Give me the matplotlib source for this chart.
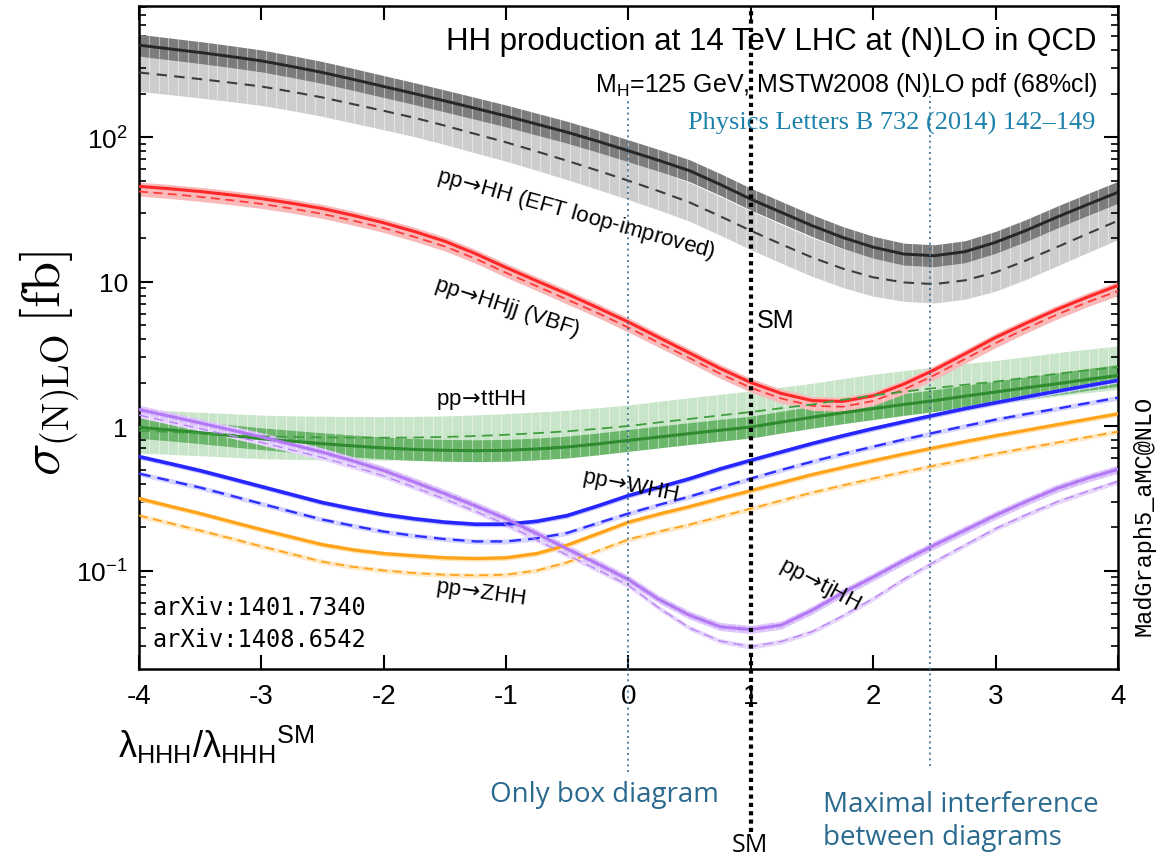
import numpy as np
import matplotlib
matplotlib.use('Agg')
import matplotlib.pyplot as plt
from matplotlib.collections import LineCollection
from matplotlib.ticker import FixedLocator, FixedFormatter, LogLocator, NullLocator

plt.rcParams['font.family'] = ['Liberation Sans', 'DejaVu Sans']
plt.rcParams['axes.unicode_minus'] = False

# lambda_HHH / lambda_HHH^SM
lam = [-4, -3.75, -3.5, -3.25, -3, -2.75, -2.5, -2.25, -2, -1.75, -1.5, -1.25, -1, -0.75, -0.5, -0.25,
       0, 0.25, 0.5, 0.75, 1, 1.25, 1.5, 1.75, 2, 2.25, 2.5, 2.75, 3, 3.25, 3.5, 3.75, 4]

# cross sections in fb, NLO (solid) and LO (dashed)
hh_nlo = [433, 408, 385, 361, 337, 308, 280, 251, 224, 200, 178, 158, 140, 123, 108, 93.5,
          80.4, 68.9, 58.5, 47.0, 37.2, 30.1, 24.4, 20.2, 17.3, 15.5, 15.1, 16.1, 18.7, 22.6, 27.9, 34.1, 41.5]
hh_lo = [280, 266, 252, 238, 224, 206, 188, 169, 152, 136, 120, 105, 92, 79.6, 68.5, 58.6,
         49.9, 42.2, 35.3, 28.3, 22.5, 18.1, 14.7, 12.3, 10.7, 9.86, 9.6, 10.2, 11.6, 14.0, 17.3, 21.4, 26.4]
hhjj_nlo = [45.6, 43.9, 42.0, 39.8, 37.5, 34.8, 32.0, 28.7, 25.5, 22.2, 19.0, 15.6, 12.5, 10.1, 8.2, 6.58,
            5.24, 4.09, 3.2, 2.50, 2.0, 1.68, 1.5, 1.48, 1.62, 1.95, 2.45, 3.16, 4.1, 5.15, 6.4, 7.8, 9.4]
hhjj_lo = [42.0, 40.4, 38.6, 36.6, 34.5, 32.0, 29.4, 26.4, 23.5, 20.4, 17.5, 14.4, 11.5, 9.3, 7.5, 6.05,
           4.8, 3.76, 2.95, 2.30, 1.84, 1.55, 1.38, 1.36, 1.49, 1.79, 2.25, 2.91, 3.75, 4.74, 5.9, 7.2, 8.6]
tthh_nlo = [0.98, 0.94, 0.90, 0.857, 0.817, 0.785, 0.755, 0.728, 0.705, 0.689, 0.679, 0.675, 0.679, 0.694,
            0.716, 0.752, 0.796, 0.84, 0.887, 0.935, 0.984, 1.065, 1.15, 1.235, 1.32, 1.41, 1.50, 1.61,
            1.72, 1.84, 1.96, 2.10, 2.24]
tthh_lo = [0.93, 0.91, 0.89, 0.87, 0.85, 0.84, 0.835, 0.832, 0.83, 0.833, 0.84, 0.853, 0.87, 0.893, 0.92,
           0.957, 1.0, 1.06, 1.12, 1.185, 1.25, 1.33, 1.41, 1.52, 1.63, 1.73, 1.83, 1.93, 2.03, 2.16,
           2.30, 2.43, 2.56]
whh_nlo = [0.614, 0.55, 0.491, 0.433, 0.381, 0.335, 0.295, 0.267, 0.244, 0.228, 0.216, 0.209, 0.209, 0.219,
           0.240, 0.280, 0.330, 0.377, 0.432, 0.505, 0.579, 0.662, 0.756, 0.855, 0.96, 1.07, 1.19, 1.32,
           1.45, 1.59, 1.74, 1.90, 2.07]
whh_lo = [0.469, 0.419, 0.375, 0.330, 0.290, 0.255, 0.225, 0.204, 0.186, 0.174, 0.165, 0.159, 0.159, 0.167,
          0.182, 0.213, 0.248, 0.285, 0.325, 0.376, 0.433, 0.497, 0.567, 0.641, 0.720, 0.807, 0.900, 1.00,
          1.107, 1.21, 1.318, 1.44, 1.571]
zhh_nlo = [0.315, 0.279, 0.248, 0.218, 0.192, 0.170, 0.151, 0.139, 0.131, 0.1265, 0.1225, 0.121, 0.1225,
           0.131, 0.150, 0.180, 0.216, 0.246, 0.277, 0.315, 0.357, 0.406, 0.461, 0.516, 0.576, 0.640, 0.708,
           0.780, 0.857, 0.935, 1.021, 1.115, 1.216]
zhh_lo = [0.240, 0.213, 0.189, 0.167, 0.147, 0.130, 0.115, 0.106, 0.100, 0.096, 0.0935, 0.0925, 0.0935, 0.100,
          0.114, 0.137, 0.164, 0.186, 0.208, 0.236, 0.268, 0.305, 0.346, 0.388, 0.433, 0.481, 0.532, 0.585,
          0.644, 0.703, 0.767, 0.838, 0.914]
tjhh_nlo = [1.30, 1.17, 1.05, 0.94, 0.841, 0.745, 0.659, 0.573, 0.492, 0.410, 0.340, 0.280, 0.228, 0.180,
            0.141, 0.111, 0.0865, 0.063, 0.049, 0.0408, 0.039, 0.0419, 0.053, 0.070, 0.090, 0.117, 0.150,
            0.190, 0.241, 0.300, 0.369, 0.435, 0.501]
tjhh_lo = [1.19, 1.07, 0.96, 0.86, 0.77, 0.683, 0.605, 0.525, 0.452, 0.377, 0.312, 0.257, 0.208, 0.163,
           0.128, 0.101, 0.079, 0.055, 0.040, 0.0325, 0.0297, 0.0323, 0.0377, 0.0485, 0.064, 0.087, 0.115,
           0.150, 0.195, 0.243, 0.298, 0.353, 0.414]

# scale uncertainty (up, down factors)
hh_nlo_unc = (1.19, 0.84)
hh_lo_unc = (1.37, 0.74)
tthh_nlo_unc = (1.19, 0.84)
tthh_lo_unc = (1.40, 0.70)
hhjj_unc = (1.07, 0.93)
vhh_unc = (1.04, 0.96)
tjhh_unc = (1.07, 0.94)

lam = np.array(lam)

fig = plt.figure(figsize=(11.62, 8.62), dpi=100)
ax = fig.add_axes([0.1196, 0.2227, 0.8425, 0.7691])
ax.set_yscale('log')
ax.set_xlim(-4, 4)
ax.set_ylim(0.0208, 807)

stripe_x = np.arange(-4, 4.001, 0.08)


def band(y, up, dn, color, zorder=1):
    y = np.array(y)
    pc = ax.fill_between(lam, y * dn, y * up, color=color, lw=0, zorder=zorder)
    segs = [[(xx, 1e-3), (xx, 1e4)] for xx in stripe_x]
    lc = LineCollection(segs, colors='white', linewidths=0.8, alpha=0.45, zorder=zorder + 0.1)
    ax.add_collection(lc, autolim=False)
    lc.set_clip_path(pc.get_paths()[0], ax.transData)
    return pc


# bands
band(hh_lo, *hh_lo_unc, color='#cdcdcd', zorder=1)
band(hh_nlo, *hh_nlo_unc, color='#7c7c7c', zorder=2)
band(tthh_lo, *tthh_lo_unc, color='#c9e5c9', zorder=1)
band(tthh_nlo, *tthh_nlo_unc, color='#6cb66c', zorder=2)
hj_top = np.maximum(hhjj_nlo, hhjj_lo)
hj_bot = np.minimum(hhjj_nlo, hhjj_lo)
ax.fill_between(lam, hj_bot * hhjj_unc[1], hj_top * hhjj_unc[0], color='#f9b9b9', lw=0, zorder=2)
band(tjhh_nlo, *tjhh_unc, color='#dcc2fa', zorder=2)
band(tjhh_lo, *vhh_unc, color='#e6d4fb', zorder=2)
band(whh_nlo, *vhh_unc, color='#c4c4ff', zorder=2)
band(whh_lo, *vhh_unc, color='#d4d4ff', zorder=2)
band(zhh_nlo, *vhh_unc, color='#ffe2b0', zorder=2)
band(zhh_lo, *vhh_unc, color='#ffe8c4', zorder=2)

# curves
ax.plot(lam, hh_nlo, color='#262626', lw=2.1, zorder=5)
ax.plot(lam, hh_lo, color='#3c3c3c', lw=1.5, dashes=(5, 3.5), zorder=5)
ax.plot(lam, hhjj_nlo, color='#ff2828', lw=2.2, zorder=5)
ax.plot(lam, hhjj_lo, color='#ff3c3c', lw=1.3, dashes=(5, 3), zorder=5)
ax.plot(lam, tthh_nlo, color='#2e8b2e', lw=2.2, zorder=5)
ax.plot(lam, tthh_lo, color='#3f9f3f', lw=1.3, dashes=(6, 3.5), zorder=5)
ax.plot(lam, whh_nlo, color='#2626ff', lw=2.6, zorder=5)
ax.plot(lam, whh_lo, color='#2e2eff', lw=1.7, dashes=(5, 3), zorder=5)
ax.plot(lam, zhh_nlo, color='#ffa31a', lw=2.3, zorder=5)
ax.plot(lam, zhh_lo, color='#ffa31a', lw=1.3, dashes=(5, 3), zorder=5)
ax.plot(lam, tjhh_nlo, color='#b378f4', lw=2.2, zorder=5)
ax.plot(lam, tjhh_lo, color='#b884f5', lw=1.0, dashes=(7, 4), zorder=5)

# reference lines, running past the frame
ax.axvline(0.0, ymin=-0.155, ymax=0.86, color='#3a6f90', lw=1.2, ls=(0, (1.2, 2.2)),
           clip_on=False, zorder=6)
ax.axvline(2.46, ymin=-0.146, ymax=0.865, color='#3a6f90', lw=1.2, ls=(0, (1.2, 2.2)),
           clip_on=False, zorder=6)
ax.axvline(1.0, ymin=-0.246, ymax=1.0, color='black', lw=3.0, ls=(0, (1, 1)),
           clip_on=False, zorder=6)

# curve labels (arrow taken from the math font, it sits tighter)
lab = dict(fontsize=16, color='black', ha='center', va='center', zorder=8,
           math_fontfamily='dejavusans')
arr = r'$\!\rightarrow\!$'
ax.text(-0.43, 29.4, 'pp' + arr + 'HH (EFT loop-improved)', rotation=-15.5, **lab)
ax.text(-0.99, 6.68, 'pp' + arr + 'HHjj (VBF)', rotation=-18, **lab)
ax.text(-1.21, 1.545, 'pp' + arr + 'ttHH', rotation=0, **lab)
ax.text(0.02, 0.387, 'pp' + arr + 'WHH', rotation=-11, **lab)
ax.text(-1.21, 0.0705, 'pp' + arr + 'ZHH', rotation=-8, **lab)
ax.text(1.56, 0.0813, 'pp' + arr + 'tjHH', rotation=-28, **lab)
ax.text(1.2, 5.43, 'SM', fontsize=18, ha='center', va='center', zorder=8)

# header
fig.text(1097 / 1162, 1 - 42 / 862, 'HH production at 14 TeV LHC at (N)LO in QCD',
         fontsize=22.5, ha='right', va='center')
fig.text(1097 / 1162, 1 - 85 / 862, r'M$_\mathregular{H}$=125 GeV, MSTW2008 (N)LO pdf (68%cl)',
         fontsize=18, ha='right', va='center')
fig.text(1095 / 1162, 1 - 123 / 862, 'Physics Letters B 732 (2014) 142–149',
         fontsize=19, ha='right', va='center', color='#1c82ab', family='Liberation Serif')

# references
fig.text(152 / 1162, 1 - 608 / 862, 'arXiv:1401.7340', fontsize=17, family='DejaVu Sans Mono',
         ha='left', va='center')
fig.text(152 / 1162, 1 - 640 / 862, 'arXiv:1408.6542', fontsize=17, family='DejaVu Sans Mono',
         ha='left', va='center')
fig.text(1144 / 1162, 1 - 516 / 862, 'MadGraph5_aMC@NLO', fontsize=17, family='Liberation Mono',
         rotation=90, ha='center', va='center')

# axes
ax.xaxis.set_major_locator(FixedLocator(range(-4, 5)))
ax.xaxis.set_major_formatter(FixedFormatter([str(v) for v in range(-4, 5)]))
ax.xaxis.set_minor_locator(NullLocator())
ax.yaxis.set_major_locator(FixedLocator([0.1, 1, 10, 100]))
ax.yaxis.set_major_formatter(FixedFormatter([r'$\mathregular{10^{-1}}$', '1', '10',
                                             r'$\mathregular{10^{2}}$']))
ax.yaxis.set_minor_locator(LogLocator(base=10, subs=np.arange(2, 10)))
ax.yaxis.set_minor_formatter(FixedFormatter([]))
ax.tick_params(which='major', direction='in', length=10, width=1.5, top=True, right=True)
ax.tick_params(which='minor', direction='in', length=5, width=1.2, right=True)
ax.tick_params(axis='x', labelsize=20, pad=10)
ax.tick_params(axis='y', labelsize=19, pad=8)
for sp in ax.spines.values():
    sp.set_linewidth(1.8)

fig.text(118 / 1162, 1 - 745 / 862, r'$\mathregular{λ_{HHH}/λ_{HHH}{}^{SM}}$', fontsize=26,
         ha='left', va='center')
fig.text(50 / 1162, 1 - 363 / 862, r'$\sigma_{\mathrm{(N)LO}}\,[\mathrm{fb}]$', fontsize=39,
         rotation=90, ha='center', va='center', math_fontfamily='cm')

# notes under the frame
note = '#2b6a8f'
fig.text(604 / 1162, 1 - 795 / 862, 'Only box diagram', fontsize=20, color=note,
         family='Open Sans', ha='center', va='center')
fig.text(823 / 1162, 1 - 805 / 862, 'Maximal interference', fontsize=20, color=note,
         family='Open Sans', ha='left', va='center')
fig.text(823 / 1162, 1 - 838 / 862, 'between diagrams', fontsize=20, color=note,
         family='Open Sans', ha='left', va='center')
fig.text(750 / 1162, 1 - 833 / 862, 'SM', fontsize=18, family='Open Sans',
         ha='center', va='top')

fig.savefig('out.png', dpi=100)
